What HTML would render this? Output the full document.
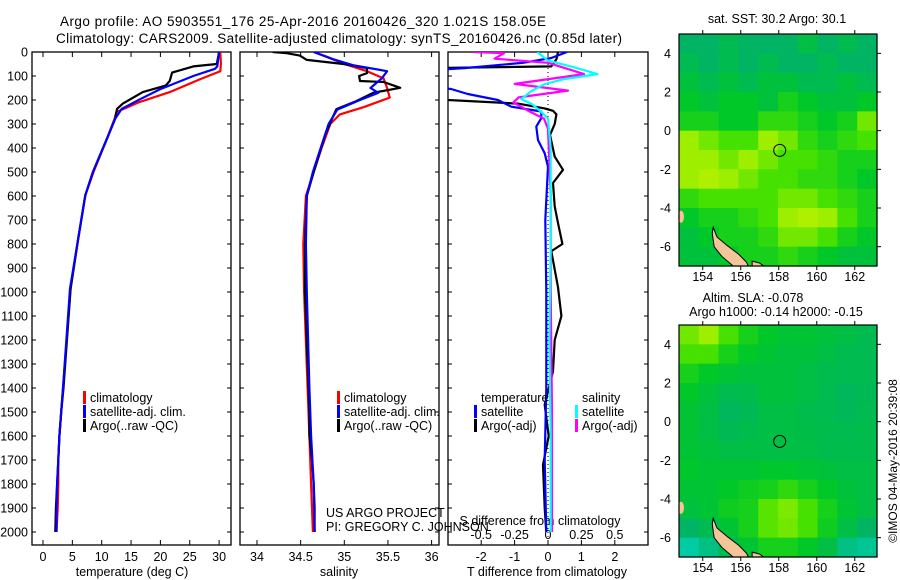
<!DOCTYPE html>
<html><head><meta charset="utf-8"><style>
html,body{margin:0;padding:0;background:#fff;}
svg{display:block;font-family:"Liberation Sans",sans-serif;}
</style></head><body>
<svg id="fig" width="900" height="580" viewBox="0 0 900 580">
<defs>
<clipPath id="c1"><rect x="32" y="52" width="199" height="493"/></clipPath>
<clipPath id="c2"><rect x="240" y="52" width="199" height="493"/></clipPath>
<clipPath id="c3"><rect x="448" y="52" width="200" height="493"/></clipPath>
</defs>
<text x="60" y="26" font-size="13.5" textLength="486">Argo profile: AO 5903551_176 25-Apr-2016 20160426_320 1.021S 158.05E</text>
<text x="56" y="43" font-size="13.5" textLength="566">Climatology: CARS2009. Satellite-adjusted climatology: synTS_20160426.nc (0.85d later)</text>
<g id="g1"></g>
<g id="g2"></g>
<g id="g3"></g>
<g id="m1"></g>
<g id="m2"></g>
<text x="777" y="23" font-size="12.5" text-anchor="middle">sat. SST: 30.2 Argo: 30.1</text>
<text x="753" y="302" font-size="12.5" text-anchor="middle">Altim. SLA: -0.078</text>
<text x="776" y="316" font-size="12.5" text-anchor="middle">Argo h1000: -0.14 h2000: -0.15</text>
<text transform="translate(897,461) rotate(-90)" font-size="12" text-anchor="middle">©IMOS 04-May-2016 20:39:08</text>
</svg>
<script>
// ---------- data ----------
const tempClimDepth=[0,50,80,86,113,167,208,250,278,361,500,597,778,986,1400,1500,1600,1700,1800,1900,2000];
const tempClim=[30.2,30.3,30.2,29.6,26.8,21.6,16.5,12.5,12.2,10.9,8.6,7.2,6.0,4.7,3.4,3.1,2.8,2.6,2.6,2.5,2.3];
const tempSatDepth=[0,60,70,100,156,197,237,278,361,500,597,778,986,1400,1500,1600,1700,1800,1900,2000];
const tempSat=[30.0,29.7,29.3,25.6,19.9,16.5,13.4,12.3,10.9,8.5,7.2,6.0,4.6,3.4,3.1,2.8,2.6,2.4,2.3,2.3];
const tempArgoDepth=[0,50,60,86,120,140,167,215,237,278,361,500,597,778,986,1400,1500,1600,1700,1800,1900,2000];
const tempArgo=[30.0,29.6,25.6,22.0,21.6,20.9,17.0,13.6,12.6,12.3,10.9,8.5,7.2,6.0,4.7,3.5,3.1,2.8,2.6,2.4,2.2,2.1];

const salClimDepth=[0,20,50,80,110,150,190,230,260,300,400,500,600,800,1000,1400,1600,1800,2000];
const salClim=[34.65,34.80,35.00,35.26,35.45,35.49,35.52,35.22,34.95,34.84,34.74,34.65,34.56,34.53,34.54,34.58,34.60,34.62,34.64];
const salSatDepth=[0,30,55,80,110,150,170,200,240,300,400,500,600,800,1000,1400,1600,1800,2000];
const salSat=[34.65,34.87,35.10,35.49,35.43,35.30,35.39,35.18,34.92,34.82,34.73,34.64,34.57,34.56,34.57,34.60,34.62,34.65,34.66];
const salArgoDepth=[0,5,15,33,50,67,88,100,121,125,149,170,204,238,278,347,500,600,800,1000,1400,1500,1600,1700,1800,1900,2000];
const salArgo=[34.18,34.34,34.49,34.57,34.99,35.26,35.26,35.17,35.18,35.45,35.64,35.33,35.14,34.91,34.86,34.78,34.65,34.57,34.55,34.55,34.59,34.60,34.60,34.63,34.65,34.66,34.66];

const dTSatDepth=[0,25,45,67,80,140,154,175,200,228,248,276,311,367,422,478,700,1000,1400,1700,2000];
const dTSat=[0.57,0.1,-0.75,-2.5,-4,-4,-2.9,-2.4,-1.5,-1.1,-0.2,-0.2,-0.35,-0.3,-0.1,0.0,-0.08,-0.05,-0.05,-0.1,-0.05];
const dTArgoDepth=[0,30,60,68,195,200,215,235,245,260,300,346,436,491,546,643,713,780,800,830,980,1100,1200,1330,1470,1600,1720,1900,2000];
const dTArgo=[0.3,0.25,0.1,-4,-4,-3,-0.9,-0.1,0.15,0.25,0.2,0.06,0.2,0.45,0.15,0.2,0.3,0.4,0.43,0.1,0.3,0.4,0.2,0.15,-0.1,0.02,-0.15,-0.1,-0.05];
const dSSatDepth=[0,36,64,92,113,133,161,196,217,250,278,400,800,1200,1600,2000];
const dSSat=[-0.08,0.0,0.2,0.37,0.12,-0.02,-0.12,-0.2,-0.12,-0.05,0.0,0.02,0.02,0.01,0.02,0.02];
const dSArgoDepth=[0,5,28,45,92,133,161,189,210,250,278,320,600,1000,1500,2000];
const dSArgo=[-0.56,-0.33,-0.4,0.0,0.27,-0.25,0.15,-0.22,-0.26,-0.13,-0.03,0.0,0.02,0.02,0.03,0.03];

const depthTicks=[0,100,200,300,400,500,600,700,800,900,1000,1100,1200,1300,1400,1500,1600,1700,1800,1900,2000];
const tempTicks=[0,5,10,15,20,25,30];
const salTicks=[34,34.5,35,35.5,36];
const tDiffTicks=[-2,-1,0,1,2];
const sDiffTicks=[-0.5,-0.25,0,0.25,0.5];
const latTicks=[4,2,0,-2,-4,-6];
const lonTicks=[154,156,158,160,162];

const sstGrid=[
[0.30,0.30,0.35,0.30,0.30,0.30,0.38,0.30,0.35,0.30],
[0.35,0.30,0.35,0.30,0.35,0.30,0.30,0.35,0.30,0.30],
[0.40,0.35,0.40,0.35,0.40,0.40,0.35,0.35,0.40,0.35],
[0.45,0.40,0.45,0.45,0.40,0.50,0.45,0.40,0.40,0.45],
[0.50,0.50,0.45,0.45,0.55,0.55,0.50,0.45,0.50,0.65],
[0.70,0.65,0.60,0.60,0.70,0.65,0.55,0.50,0.55,0.60],
[0.70,0.70,0.65,0.70,0.65,0.60,0.60,0.55,0.50,0.50],
[0.70,0.72,0.70,0.65,0.60,0.60,0.55,0.55,0.50,0.45],
[0.55,0.60,0.60,0.60,0.60,0.65,0.65,0.60,0.55,0.50],
[0.45,0.50,0.50,0.55,0.60,0.70,0.72,0.70,0.60,0.50],
[0.40,0.45,0.50,0.50,0.55,0.65,0.65,0.60,0.50,0.45],
[0.40,0.40,0.45,0.50,0.50,0.55,0.50,0.45,0.40,0.40]];
const slaGrid=[
[0.65,0.70,0.60,0.50,0.45,0.42,0.42,0.40,0.38,0.35],
[0.60,0.60,0.50,0.45,0.42,0.40,0.40,0.38,0.35,0.35],
[0.50,0.45,0.42,0.40,0.40,0.40,0.38,0.36,0.35,0.35],
[0.45,0.40,0.35,0.36,0.40,0.40,0.38,0.35,0.32,0.34],
[0.42,0.38,0.32,0.34,0.38,0.38,0.36,0.35,0.33,0.35],
[0.42,0.38,0.34,0.36,0.38,0.38,0.37,0.36,0.35,0.36],
[0.42,0.40,0.38,0.38,0.38,0.38,0.38,0.36,0.36,0.36],
[0.44,0.42,0.42,0.42,0.44,0.44,0.42,0.40,0.38,0.38],
[0.42,0.42,0.45,0.48,0.50,0.55,0.50,0.45,0.40,0.38],
[0.40,0.42,0.48,0.50,0.62,0.66,0.60,0.50,0.42,0.38],
[0.30,0.35,0.42,0.50,0.62,0.65,0.60,0.48,0.38,0.30],
[0.10,0.20,0.35,0.42,0.50,0.50,0.45,0.38,0.20,0.15]];
const landLon=[154.55,154.75,155.3,155.9,156.3,156.4,155.6,155.0,154.6,154.5];
const landLat=[-5.0,-5.5,-5.95,-6.4,-6.8,-7.0,-7.0,-6.5,-6.0,-5.3];
const land2Lon=[156.6,157.0,157.2,156.6];
const land2Lat=[-6.75,-6.85,-7.0,-7.0];
const floatLon=158.05, floatLat=-1.02;

// ---------- helpers ----------
const NS='http://www.w3.org/2000/svg';
function mk(parent,tag,attrs){const e=document.createElementNS(NS,tag);for(const k in attrs)e.setAttribute(k,attrs[k]);parent.appendChild(e);return e;}
const Y0=52, Y1=545;
const yD=d=>52+d*0.24;
const xT=t=>43+t*5.87;
const xS=s=>257+(s-34)*87.3;
const xDT=v=>548+v*33.4;
const xDS=v=>548+v*133.6;

function panel(g,x0,x1,xticks,xf,ylabels){
  const r=mk(g,'rect',{x:x0,y:Y0,width:x1-x0,height:Y1-Y0,fill:'none',stroke:'#000','stroke-width':1.3});
  
  
  depthTicks.forEach(d=>{
    const t=mk(g,'path',{d:`M${x0} ${yD(d)}h4M${x1} ${yD(d)}h-4`,stroke:'#000'});
    
    
    if(ylabels){
      const l=mk(g,'text',{x:28,y:yD(d)+4.5,'font-size':12.5,'text-anchor':'end'});
      l.textContent=d;
      
      
    }
  });
  xticks.forEach(v=>{
    const x=xf(v);
    const t=mk(g,'path',{d:`M${x} ${Y1}v-5M${x} ${Y0}v5`,stroke:'#000'});
    
    
  });
}
function line(g,depths,vals,xf,color,clip,name){
  const pts=depths.map((d,i)=>xf(vals[i]).toFixed(1)+','+yD(d).toFixed(1)).join(' ');
  const p=mk(g,'polyline',{points:pts,fill:'none',stroke:color,'stroke-width':2.2,'clip-path':`url(#${clip})`,'stroke-linejoin':'round'});
  
  
}
function txt(g,x,y,s,size,anchor,name){
  const t=mk(g,'text',{x:x,y:y,'font-size':size,'text-anchor':anchor||'start'});
  t.textContent=s;
  
  
  return t;
}
function legend(g,x,y,color,label,name){
  const b=mk(g,'rect',{x:x,y:y-11,width:3,height:13,fill:color});
  
  
  txt(g,x+7,y,label,12.5,'start',name+'-label');
}

// ---------- panel 1 ----------
const g1=document.getElementById('g1');
panel(g1,32,231,tempTicks,xT,true);
tempTicks.forEach(v=>txt(g1,xT(v),561,String(v),12.5,'middle','temperature-tick-label'));
txt(g1,132,576,'temperature (deg C)',12.5,'middle','temperature-axis-title');
line(g1,tempClimDepth,tempClim,xT,'#ff0000','c1','temperature-climatology-line');
line(g1,tempArgoDepth,tempArgo,xT,'#000000','c1','temperature-argo-line');
line(g1,tempSatDepth,tempSat,xT,'#0000ff','c1','temperature-satellite-line');
legend(g1,83,402,'#ff0000','climatology','legend-climatology');
legend(g1,83,416,'#0000ff','satellite-adj. clim.','legend-satellite');
legend(g1,83,430,'#000000','Argo(..raw -QC)','legend-argo');

// ---------- panel 2 ----------
const g2=document.getElementById('g2');
panel(g2,240,439,salTicks,xS,false);
salTicks.forEach(v=>txt(g2,xS(v),561,String(v),12.5,'middle','salinity-tick-label'));
txt(g2,339,576,'salinity',12.5,'middle','salinity-axis-title');
line(g2,salClimDepth,salClim,xS,'#ff0000','c2','salinity-climatology-line');
line(g2,salArgoDepth,salArgo,xS,'#000000','c2','salinity-argo-line');
line(g2,salSatDepth,salSat,xS,'#0000ff','c2','salinity-satellite-line');
legend(g2,337,402,'#ff0000','climatology','legend-climatology');
legend(g2,337,416,'#0000ff','satellite-adj. clim.','legend-satellite');
legend(g2,337,430,'#000000','Argo(..raw -QC)','legend-argo');

// ---------- panel 3 ----------
const g3=document.getElementById('g3');
panel(g3,448,648,tDiffTicks,xDT,false);
const zl=mk(g3,'line',{x1:548,y1:Y0,x2:548,y2:Y1,stroke:'#000','stroke-dasharray':'1,3'});


tDiffTicks.forEach(v=>txt(g3,xDT(v),561,String(v),12.5,'middle','t-diff-tick-label'));
sDiffTicks.forEach(v=>txt(g3,xDS(v),539,String(v),12.5,'middle','s-diff-tick-label'));
txt(g3,547,576,'T difference from climatology',12.5,'middle','t-diff-axis-title');
txt(g3,540,525,'S difference from climatology',12.5,'middle','s-diff-axis-title');
line(g3,dTArgoDepth,dTArgo,xDT,'#000000','c3','t-diff-argo-line');
line(g3,dTSatDepth,dTSat,xDT,'#0000ff','c3','t-diff-satellite-line');
line(g3,dSArgoDepth,dSArgo,xDS,'#ff00ff','c3','s-diff-argo-line');
line(g3,dSSatDepth,dSSat,xDS,'#00ffff','c3','s-diff-satellite-line');
txt(g3,481,402,'temperature',12.5,'start','legend-temperature-heading');
legend(g3,474,416,'#0000ff','satellite','legend-t-satellite');
legend(g3,474,430,'#000000','Argo(-adj)','legend-t-argo');
txt(g3,582,402,'salinity',12.5,'start','legend-salinity-heading');
legend(g3,575,416,'#00ffff','satellite','legend-s-satellite');
legend(g3,575,430,'#ff00ff','Argo(-adj)','legend-s-argo');
txt(g3,326,517,'US ARGO PROJECT',12.5,'start','project-credit');
txt(g3,326,531,'PI: GREGORY C. JOHNSON',12.5,'start','pi-credit');

// ---------- maps ----------
const stops=[[0,[0,215,195]],[0.3,[0,180,100]],[0.45,[0,200,40]],[0.6,[70,225,0]],[0.72,[175,240,0]],[0.85,[240,240,0]],[1,[250,160,0]]];
function cmap(v){
  for(let i=1;i<stops.length;i++){
    if(v<=stops[i][0]){const a=stops[i-1],b=stops[i];const f=(v-a[0])/(b[0]-a[0]);
      const c=a[1].map((q,k)=>Math.round(q+(b[1][k]-q)*f));return `rgb(${c[0]},${c[1]},${c[2]})`;}
  }
  return 'rgb(250,160,0)';
}
const MX0=679, MX1=877, LON0=152.75, LON1=163.17;
const xLon=lon=>MX0+(lon-LON0)*(MX1-MX0)/(LON1-LON0);
function drawMap(g,top,bot,grid){
  const yLat=lat=>top+(5-lat)*(bot-top)/12;
  const rows=grid.length, cols=grid[0].length;
  const cw=(MX1-MX0)/cols, ch=(bot-top)/rows;
  grid.forEach((row,i)=>row.forEach((v,j)=>{
    const c=mk(g,'rect',{x:MX0+j*cw,y:top+i*ch,width:cw+0.6,height:ch+0.6,fill:cmap(v)});
    
    
  }));
  const l1=mk(g,'polygon',{points:landLon.map((lo,i)=>xLon(lo)+','+yLat(landLat[i])).join(' '),fill:'#f5c59a',stroke:'#000','stroke-width':1});
  
  
  const l2=mk(g,'polygon',{points:land2Lon.map((lo,i)=>xLon(lo)+','+yLat(land2Lat[i])).join(' '),fill:'#f5c59a',stroke:'#000','stroke-width':1});
  
  
  const l3=mk(g,'ellipse',{cx:MX0+2,cy:yLat(-4.45),rx:3,ry:6,fill:'#f5c59a'});
  
  
  const fl=mk(g,'circle',{cx:xLon(floatLon),cy:yLat(floatLat),r:6,fill:'none',stroke:'#000','stroke-width':1});
  
  
  const fr=mk(g,'rect',{x:MX0,y:top,width:MX1-MX0,height:bot-top,fill:'none',stroke:'#000','stroke-width':1.2});
  
  
  latTicks.forEach(lat=>{
    const y=yLat(lat);
    const t=mk(g,'path',{d:`M${MX1} ${y}h4`,stroke:'#000'});
    
    
    txt(g,671,y+4.5,String(lat),12.5,'end','lat-tick-label');
  });
  lonTicks.forEach(lon=>{
    const x=xLon(lon);
    const t=mk(g,'path',{d:`M${x} ${top}v-4M${x} ${bot}v4`,stroke:'#000'});
    
    
    txt(g,x,bot+15,String(lon),12.5,'middle','lon-tick-label');
  });
}
drawMap(document.getElementById('m1'),34,266,sstGrid);
drawMap(document.getElementById('m2'),325,557,slaGrid);
</script>
</body></html>
